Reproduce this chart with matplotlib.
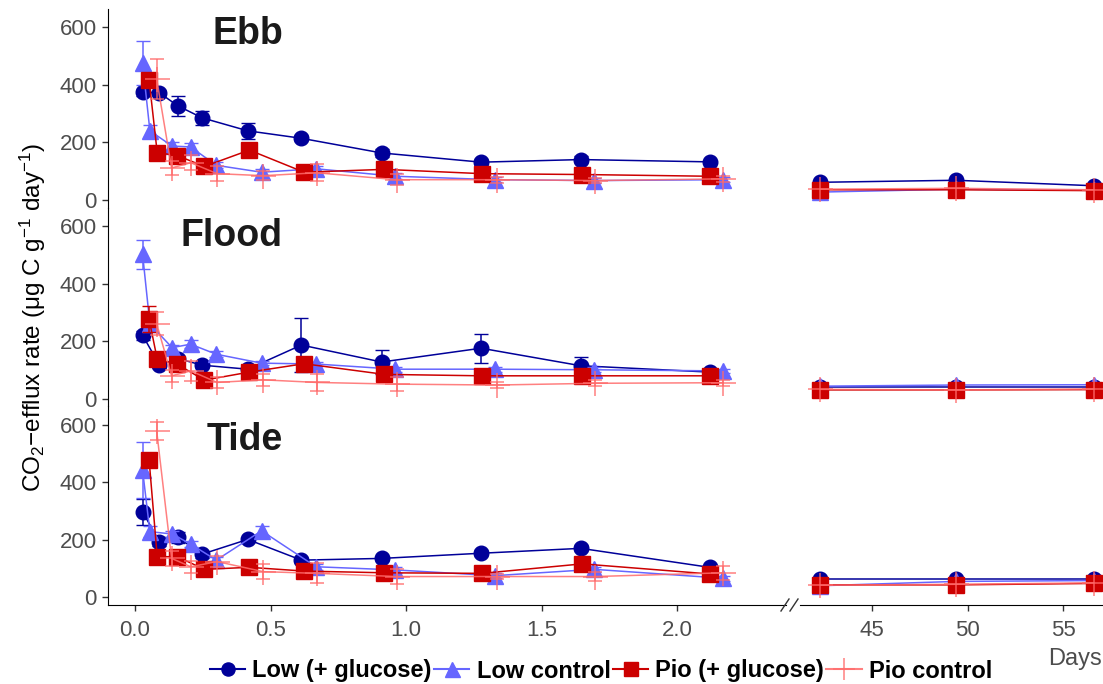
import matplotlib
matplotlib.use("Agg")
import matplotlib.pyplot as plt
from matplotlib.lines import Line2D

plt.rcParams['font.family'] = ['Liberation Sans', 'DejaVu Sans']
plt.rcParams['mathtext.fontset'] = 'custom'
plt.rcParams['mathtext.rm'] = 'Liberation Sans'
plt.rcParams['mathtext.it'] = 'Liberation Sans:italic'

sites = ["Ebb", "Flood", "Tide"]
series_names = ["Low (+ glucose)", "Low control", "Pio (+ glucose)", "Pio control"]

# sampling days (early phase)
t_low_glu = [0.028, 0.09, 0.158, 0.248, 0.416, 0.614, 0.91, 1.277, 1.645, 2.12]
t_low_ctl = [0.028, 0.055, 0.137, 0.205, 0.30, 0.467, 0.668, 0.96, 1.327, 1.694, 2.17]
t_pio_glu = [0.052, 0.082, 0.156, 0.256, 0.422, 0.624, 0.92, 1.28, 1.65, 2.12]
t_pio_ctl = [0.08, 0.135, 0.206, 0.303, 0.473, 0.670, 0.965, 1.334, 1.698, 2.17]
# late phase days
t_late = [42.3, 49.4, 56.6]

# Ebb
ebb_low_glu = [374, 372, 327, 285, 240, 214, 163, 131, 140, 132]
ebb_low_glu_err = [12, 10, 34, 25, 27, 10, 15, 10, 12, 8]
ebb_low_ctl = [476, 240, 187, 184, 120, 96, 108, 82, 70, 67, 70]
ebb_low_ctl_err = [77, 20, 15, 15, 10, 10, 10, 10, 8, 8, 8]
ebb_pio_glu = [417, 164, 154, 116, 173, 96, 106, 91, 88, 82]
ebb_pio_glu_err = [15, 15, 15, 10, 10, 8, 8, 8, 8, 8]
ebb_pio_ctl = [420, 111, 129, 91, 84, 94, 70, 70, 67, 73]
ebb_pio_ctl_err = [70, 25, 26, 25, 15, 30, 20, 10, 10, 10]
ebb_low_glu_late = [61, 68, 49]
ebb_low_ctl_late = [27, 37, 33]
ebb_pio_glu_late = [35, 35, 32]
ebb_pio_ctl_late = [37, 40, 35]

# Flood
flood_low_glu = [220, 117, 139, 116, 102, 186, 127, 175, 114, 92]
flood_low_glu_err = [15, 10, 10, 10, 8, 93, 42, 50, 31, 8]
flood_low_ctl = [502, 259, 177, 189, 154, 123, 120, 102, 102, 100, 96]
flood_low_ctl_err = [50, 15, 10, 15, 10, 8, 8, 8, 8, 8, 8]
flood_pio_glu = [276, 137, 119, 64, 92, 121, 84, 79, 79, 79]
flood_pio_glu_err = [45, 20, 15, 10, 10, 10, 10, 8, 8, 8]
flood_pio_ctl = [260, 79, 96, 56, 65, 56, 50, 47, 53, 55]
flood_pio_ctl_err = [40, 20, 35, 20, 20, 30, 25, 10, 10, 10]
flood_low_glu_late = [40, 40, 40]
flood_low_ctl_late = [43, 47, 48]
flood_pio_glu_late = [30, 30, 31]
flood_pio_ctl_late = [32, 30, 33]

# Tide
tide_low_glu = [297, 193, 208, 150, 201, 129, 135, 153, 170, 104]
tide_low_glu_err = [46, 15, 20, 12, 10, 10, 10, 10, 10, 8]
tide_low_ctl = [442, 228, 220, 185, 129, 231, 106, 95, 75, 97, 66]
tide_low_ctl_err = [98, 20, 12, 12, 10, 15, 10, 10, 8, 8, 8]
tide_pio_glu = [478, 141, 141, 97, 104, 91, 85, 83, 116, 81]
tide_pio_glu_err = [10, 15, 15, 10, 10, 10, 10, 8, 10, 8]
tide_pio_ctl = [578, 135, 106, 124, 89, 83, 72, 72, 72, 85]
tide_pio_ctl_err = [30, 25, 20, 20, 25, 35, 25, 10, 15, 25]
tide_low_glu_late = [62, 62, 62]
tide_low_ctl_late = [40, 55, 58]
tide_pio_glu_late = [43, 43, 48]
tide_pio_ctl_late = [42, 45, 50]

left_ticks = [0.0, 0.5, 1.0, 1.5, 2.0]
left_ticklabels = ["0.0", "0.5", "1.0", "1.5", "2.0"]
right_ticks = [45, 50, 55]
right_ticklabels = ["45", "50", "55"]
y_ticks = [0, 200, 400, 600]

data = {
    "Ebb": [(ebb_low_glu, ebb_low_glu_err, ebb_low_glu_late),
            (ebb_low_ctl, ebb_low_ctl_err, ebb_low_ctl_late),
            (ebb_pio_glu, ebb_pio_glu_err, ebb_pio_glu_late),
            (ebb_pio_ctl, ebb_pio_ctl_err, ebb_pio_ctl_late)],
    "Flood": [(flood_low_glu, flood_low_glu_err, flood_low_glu_late),
              (flood_low_ctl, flood_low_ctl_err, flood_low_ctl_late),
              (flood_pio_glu, flood_pio_glu_err, flood_pio_glu_late),
              (flood_pio_ctl, flood_pio_ctl_err, flood_pio_ctl_late)],
    "Tide": [(tide_low_glu, tide_low_glu_err, tide_low_glu_late),
             (tide_low_ctl, tide_low_ctl_err, tide_low_ctl_late),
             (tide_pio_glu, tide_pio_glu_err, tide_pio_glu_late),
             (tide_pio_ctl, tide_pio_ctl_err, tide_pio_ctl_late)],
}
times = [t_low_glu, t_low_ctl, t_pio_glu, t_pio_ctl]

styles = [
    dict(color="#000099", marker="o", ms=10.5, mew=1, alpha=1.0),
    dict(color="#6666FF", marker="^", ms=12, mew=1, alpha=1.0),
    dict(color="#CC0000", marker="s", ms=11, mew=1, alpha=1.0),
    dict(color="#FF6A6A", marker="+", ms=18, mew=1.1, alpha=0.85),
]

W, H = 1103, 684
fig = plt.figure(figsize=(W / 100, H / 100), dpi=100)

ylim = (-27, 664)
left_xlim = (-0.0996, 2.402)
right_xlim = (41.23, 57.09)
row_bottoms = [0.6965, 0.406, 0.1155]
row_h = 0.2905
lx, lw = 108 / W, (786 - 108) / W
rx, rw = 800 / W, (1103 - 800) / W
title_pos = [(0.258, 0.872), (0.258, 0.857), (0.258, 0.828)]
gray = "#4D4D4D"

for r, site in enumerate(sites):
    axl = fig.add_axes([lx, row_bottoms[r], lw, row_h])
    axr = fig.add_axes([rx, row_bottoms[r], rw, row_h])
    for k, (vals, errs, late) in enumerate(data[site]):
        st = styles[k]
        axl.errorbar(times[k], vals, yerr=errs, color=st["color"], ecolor=st["color"],
                     elinewidth=1.1, capsize=5, capthick=1.1, lw=1.1,
                     marker=st["marker"], ms=st["ms"], mew=st["mew"],
                     alpha=st["alpha"], zorder=2 + k, clip_on=False)
        axr.plot(t_late, late, color=st["color"], lw=1.1, marker=st["marker"],
                 ms=st["ms"], mew=st["mew"], alpha=st["alpha"], zorder=2 + k,
                 clip_on=False)
    for ax in (axl, axr):
        ax.set_ylim(*ylim)
        ax.set_facecolor("none")
        for s in ("top", "right"):
            ax.spines[s].set_visible(False)
        ax.tick_params(colors="#333333", labelcolor=gray, labelsize=16, length=4,
                       width=1, pad=4)
        ax.tick_params(axis="x", pad=7)
    axl.set_xlim(*left_xlim)
    axr.set_xlim(*right_xlim)
    axl.set_yticks(y_ticks)
    axl.set_yticklabels([str(v) for v in y_ticks])
    axr.spines["left"].set_visible(False)
    axr.set_yticks([])
    axl.spines["left"].set_color("black")
    if r < 2:
        axl.spines["bottom"].set_visible(False)
        axr.spines["bottom"].set_visible(False)
        axl.set_xticks([])
        axr.set_xticks([])
    else:
        axl.set_xticks(left_ticks)
        axl.set_xticklabels(left_ticklabels)
        axr.set_xticks(right_ticks)
        axr.set_xticklabels(right_ticklabels)
        axl.spines["bottom"].set_color("black")
        axr.spines["bottom"].set_color("black")
    axl.text(title_pos[r][0], title_pos[r][1], site, transform=axl.transAxes,
             ha="right", va="center", fontsize=27, fontweight="bold", color="#1A1A1A")

# axis break marks
for x0 in (781, 790):
    fig.add_artist(Line2D([x0 / W, (x0 + 8) / W], [1 - 611 / H, 1 - 599 / H],
                          color="#333333", lw=1))

fig.text(33 / W, 1 - 318 / H,
         r"CO$_2$$-$efflux rate (μg C g$^{-1}$ day$^{-1}$)",
         rotation=90, ha="center", va="center", fontsize=17.5, color="black")
fig.text(1102 / W, 1 - 659 / H, "Days", ha="right", va="center", fontsize=17, color=gray)

handles = []
for k, st in enumerate(styles):
    handles.append(Line2D([0], [0], color=st["color"], lw=1.5, marker=st["marker"],
                          ms=st["ms"] * 0.9, mew=st["mew"], alpha=st["alpha"]))
leg = fig.legend(handles, series_names, loc="center", ncol=4,
                 bbox_to_anchor=(601 / W, 1 - 671 / H), frameon=False,
                 prop=dict(size=17, weight="bold"), handlelength=1.5,
                 handletextpad=0.3, columnspacing=0.1, borderaxespad=0)

fig.savefig("out.png", dpi=100)
